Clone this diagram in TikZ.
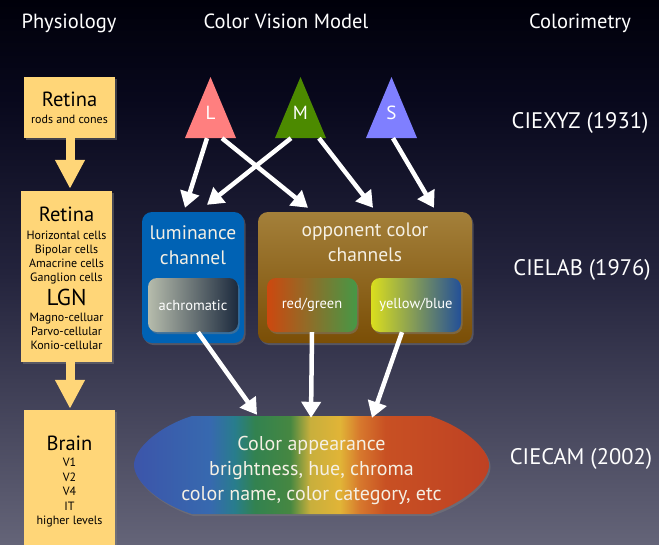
\documentclass[tikz,border=0pt]{standalone}
\usepackage{fontspec}
\setmainfont{PT Sans}
\usetikzlibrary{arrows.meta,shadows}
\definecolor{bgA}{RGB}{0,0,10}
\definecolor{bgB}{RGB}{8,8,28}
\definecolor{bgC}{RGB}{35,35,60}
\definecolor{bgD}{RGB}{100,100,120}
\definecolor{gold}{RGB}{255,214,120}
\definecolor{coneL}{RGB}{255,127,127}
\definecolor{coneM}{RGB}{76,138,0}
\definecolor{coneS}{RGB}{127,127,255}
\definecolor{lumblue}{RGB}{0,98,180}
\definecolor{opptop}{RGB}{164,128,58}
\definecolor{oppbot}{RGB}{122,78,6}
\definecolor{cream}{RGB}{245,240,228}
\definecolor{achA}{RGB}{182,188,172}
\definecolor{achM}{RGB}{128,134,130}
\definecolor{achB}{RGB}{28,42,62}
\definecolor{rgA}{RGB}{205,72,15}
\definecolor{rgM}{RGB}{145,105,50}
\definecolor{rgB}{RGB}{70,152,70}
\definecolor{ybA}{RGB}{218,222,30}
\definecolor{ybM}{RGB}{110,160,95}
\definecolor{ybB}{RGB}{35,80,152}
\definecolor{spA}{RGB}{60,85,170}
\definecolor{spB}{RGB}{55,105,175}
\definecolor{spC}{RGB}{40,125,140}
\definecolor{spD}{RGB}{50,130,80}
\definecolor{spE}{RGB}{70,135,65}
\definecolor{spF}{RGB}{200,175,60}
\definecolor{spG}{RGB}{225,180,55}
\definecolor{spH}{RGB}{215,120,45}
\definecolor{spI}{RGB}{200,80,35}
\definecolor{spJ}{RGB}{190,65,35}
\pgfdeclareverticalshading{bgshade}{100bp}{color(0bp)=(bgD); color(25bp)=(bgD); color(50bp)=(bgC); color(66bp)=(bgB); color(75bp)=(bgA); color(100bp)=(bgA)}
\pgfdeclarehorizontalshading{spectrum}{100bp}{color(0bp)=(spA); color(25bp)=(spA); color(35.7bp)=(spB); color(39.2bp)=(spC); color(42bp)=(spD); color(47bp)=(spE); color(49.8bp)=(spF); color(54bp)=(spG); color(56.8bp)=(spH); color(60.4bp)=(spI); color(75bp)=(spJ); color(100bp)=(spJ)}
\begin{document}
\begin{tikzpicture}[x=1pt,y=-1pt,
  title/.style={text=white,anchor=base,font=\fontsize{20.5}{24}\selectfont},
  cie/.style={text=white,anchor=base,font=\fontsize{22.5}{26}\selectfont},
  shd/.style={drop shadow={opacity=0.45,shadow xshift=1.5pt,shadow yshift=-2pt}},
  physbox/.style={fill=gold,inner sep=0,shd},
  physhead/.style={text=black,anchor=base,font=\fontsize{20.5}{24}\selectfont},
  physsmall/.style={text=black,anchor=base,font=\fontsize{12}{14}\selectfont},
  bigarrow/.style={draw=gold,line width=9pt,-{Triangle[length=29pt,width=28pt]}},
  conelab/.style={text=white,font=\fontsize{19}{22}\selectfont,minimum width=51pt,minimum height=50pt,inner sep=0},
  chanbox/.style={rounded corners=10pt,inner sep=0,minimum height=131pt,shd},
  subbox/.style={rounded corners=9pt,inner sep=0,minimum width=90pt,minimum height=54pt,text=white,font=\fontsize{14.5}{17}\selectfont,shading angle=-45,shd},
  chantext/.style={text=cream,align=center,font=\fontsize{19.5}{25}\selectfont},
  catext/.style={text=cream,anchor=base,font=\fontsize{20}{24}\selectfont},
  wa/.style={draw=white,line width=4.5pt,-{Triangle[length=16pt,width=19pt]}}
]
\path[shading=bgshade] (0,0) rectangle (659,544);
\useasboundingbox (0,0) rectangle (659,544);

% titles
\node[title] (t1) at (69,28) {Physiology};
\node[title] (t2) at (286,28) {Color Vision Model};
\node[title] (t3) at (580,28) {Colorimetry};

% physiology column
\node[physbox,minimum width=91pt,minimum height=61pt] (r1) at (69.5,107) {};
\node[physbox,minimum width=91pt,minimum height=171pt] (r2) at (66.5,276.5) {};
\node[physbox,minimum width=91pt,minimum height=150pt] (r3) at (69.5,485) {};
\draw[bigarrow] (r1.south -| 70,0) -- ([yshift=2pt]r2.north -| 70,0);
\draw[bigarrow] (r2.south -| 70,0) -- ([yshift=1pt]r3.north -| 70,0);

\node[physhead] (r1a) at (69.5,106.7) {Retina};
\node[physsmall] (r1b) at (69.5,123.3) {rods and cones};
\node[physhead] (r2a) at (66.5,221.7) {Retina};
\foreach \t/\y [count=\i] in {Horizontal cells/239,Bipolar cells/253.3,Amacrine cells/267.3,Ganglion cells/281.7}
  \node[physsmall] (r2s\i) at (66.5,\y) {\t};
\node[physhead,font=\fontsize{23}{26}\selectfont] (r2c) at (66.5,305) {LGN};
\foreach \t/\y [count=\i] in {Magno-celluar/321,Parvo-cellular/335.7,Konio-cellular/349.3}
  \node[physsmall] (r2m\i) at (66.5,\y) {\t};
\node[physhead] (r3a) at (69.5,450.7) {Brain};
\foreach \t/\y [count=\i] in {V1/466.7,V2/481,V4/495.7,IT/510,higher levels/524.3}
  \node[physsmall] (r3s\i) at (69.5,\y) {\t};

% cones
\fill[coneL] (185,138) -- (210.5,77) -- (236,138) -- cycle;
\fill[coneM] (275,138) -- (300.5,77) -- (326,138) -- cycle;
\fill[coneS] (366,138) -- (391.5,77) -- (417,138) -- cycle;
\node[conelab] (L) at (210.5,113) {L};
\node[conelab] (M) at (300.5,113) {M};
\node[conelab] (S) at (391.5,113) {S};

% channel boxes
\node[chanbox,fill=lumblue,minimum width=102pt] (lum) at (193,277.5) {};
\node[chanbox,top color=opptop,bottom color=oppbot,minimum width=214pt] (opp) at (365,277.5) {};
\node[chantext] (lumt) at (193,245) {luminance\\channel};
\node[chantext] (oppt) at (365,242) {opponent color\\channels};
\node[subbox,left color=achA,middle color=achM,right color=achB] (achro) at (193,305) {achromatic};
\node[subbox,left color=rgA,middle color=rgM,right color=rgB] (rg) at (312,305) {red/green};
\node[subbox,left color=ybA,middle color=ybM,right color=ybB] (yb) at (416,305) {yellow/blue};

% cone arrows
\draw[wa] ([xshift=-3.5pt]L.south) -- ([xshift=-8pt,yshift=4pt]lum.north);
\draw[wa] ([xshift=11.5pt]L.south) -- ([xshift=-57pt,yshift=4pt]opp.north);
\draw[wa] ([xshift=-9.5pt]M.south) -- ([xshift=14pt,yshift=7pt]lum.north);
\draw[wa] ([xshift=18.5pt]M.south) -- ([xshift=8pt,yshift=4pt]opp.north);
\draw[wa] ([xshift=1.5pt]S.south) -- ([xshift=69pt,yshift=4pt]opp.north);

% color appearance
\path[shading=spectrum,drop shadow={opacity=0.45,shadow xshift=1.5pt,shadow yshift=-2pt}]
  (192,416) -- (430,416) .. controls (462,426) and (489,448) .. (489,465)
  .. controls (489,482) and (462,504) .. (430,514) -- (192,514)
  .. controls (160,504) and (134,482) .. (134,465)
  .. controls (134,448) and (160,426) .. (192,416) -- cycle;
\node[inner sep=0,minimum width=355pt,minimum height=98pt] (ca) at (311.5,465) {};
\node[catext] (ca1) at (311.5,450) {Color appearance};
\node[catext] (ca2) at (311.5,475) {brightness, hue, chroma};
\node[catext] (ca3) at (311.5,500) {color name, color category, etc};

\draw[wa] ([xshift=5pt]achro.south) -- ([xshift=-54.5pt,yshift=1pt]ca.north);
\draw[wa] (rg.south) -- ([xshift=-0.5pt,yshift=-2pt]ca.north);
\draw[wa] ([xshift=-14pt]yb.south) -- ([xshift=60.5pt,yshift=-2pt]ca.north);

% colorimetry
\node[cie] (c1) at (580,128.3) {CIEXYZ (1931)};
\node[cie] (c2) at (582,275.7) {CIELAB (1976)};
\node[cie] (c3) at (581,464.3) {CIECAM (2002)};
\end{tikzpicture}
\end{document}
